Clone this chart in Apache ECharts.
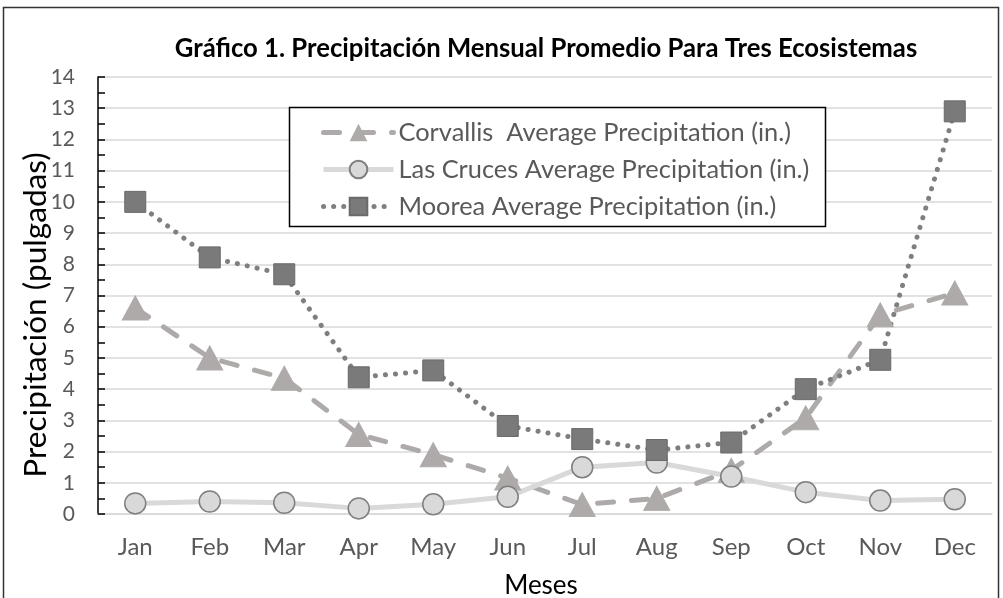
<!DOCTYPE html>
<html><head><meta charset="utf-8">
<script src="https://cdn.jsdelivr.net/npm/echarts@6/dist/echarts.min.js"></script>
<style>html,body{margin:0;padding:0;background:#fff}#c{width:1003px;height:598px}</style>
</head><body><div id="c"></div>
<script>
const months = ['Jan','Feb','Mar','Apr','May','Jun','Jul','Aug','Sep','Oct','Nov','Dec'];
const corvallis = [6.6, 5.0, 4.35, 2.55, 1.9, 1.15, 0.3, 0.5, 1.4, 3.08, 6.38, 7.08];
const lasCruces = [0.34, 0.4, 0.36, 0.18, 0.31, 0.55, 1.5, 1.65, 1.2, 0.7, 0.43, 0.47];
const moorea = [10.0, 8.22, 7.68, 4.38, 4.6, 2.82, 2.4, 2.05, 2.29, 4.0, 4.94, 12.9];
const yTicks = [0, 14, 1];
const yName = 'Precipitación (pulgadas)';
const FONT = 'Lato';
const chart = echarts.init(document.getElementById('c'));
chart.setOption({
  animation: false,
  textStyle: {fontFamily: FONT},
  title: {text: 'Gráfico 1. Precipitación Mensual Promedio Para Tres Ecosistemas', left: 541, textAlign: 'center', top: 31,
    textStyle: {fontFamily: FONT, fontWeight: 'bold', fontSize: 25.7, color: '#000'}},
  graphic: [
    {type: 'rect', shape: {x: 3.5, y: 7.5, width: 995, height: 600}, style: {fill: 'none', stroke: '#333', lineWidth: 1.5}, z: 100},
    {type: 'rect', shape: {x: 289.5, y: 107.5, width: 536, height: 119}, style: {fill: '#fff', stroke: '#000', lineWidth: 1.5}, z: 3},
    {type: 'text', x: 36, y: 315, rotation: Math.PI / 2, z: 5,
      style: {text: yName, fontFamily: FONT, fontSize: 31.6, fill: '#000', align: 'center', verticalAlign: 'middle'}}
  ],
  legend: {orient: 'vertical', left: 289, top: 107, padding: [13, 0, 0, 32], itemGap: 12, z: 4,
    itemWidth: 70, itemHeight: 22,
    lineStyle: {width: 5},
    textStyle: {fontFamily: FONT, fontSize: 25.4, color: '#595959', lineHeight: 22, height: 22}},
  grid: {left: 98, right: 11, top: 77, bottom: 84, outerBoundsMode: 'none', containLabel: false},
  xAxis: {type: 'category', data: months, boundaryGap: true,
    axisLine: {show: true, lineStyle: {color: '#d9d9d9', width: 1.5}}, axisTick: {show: false},
    axisLabel: {fontFamily: FONT, fontSize: 24, color: '#595959', margin: 21},
    name: 'Meses', nameLocation: 'middle', nameGap: 59, nameTextStyle: {fontFamily: FONT, fontSize: 26, color: '#000', padding: [0, 8, 0, 0]}},
  yAxis: {type: 'value', min: yTicks[0], max: yTicks[1], interval: yTicks[2],
    axisLine: {show: true, lineStyle: {color: '#000', width: 1.5}},
    axisTick: {show: true, inside: true, length: 7, lineStyle: {color: '#000', width: 1.5}},
    minorTick: {show: true, splitNumber: 2, length: 7, lineStyle: {color: '#000', width: 1.5}},
    splitLine: {lineStyle: {color: '#d9d9d9', width: 1.5}},
    axisLabel: {fontFamily: FONT, fontSize: 21, color: '#595959', margin: 23}},
  series: [
    {name: 'Corvallis  Average Precipitation (in.)', type: 'line', data: corvallis, symbol: 'triangle', symbolSize: [26, 24],
      itemStyle: {color: '#aeaaaa', borderColor: '#aeaaaa'},
      lineStyle: {color: '#aeaaaa', width: 5, type: [16, 18], cap: 'round'}},
    {name: 'Las Cruces Average Precipitation (in.)', type: 'line', data: lasCruces, symbol: 'circle', symbolSize: 21,
      itemStyle: {color: '#d9d9d9', borderColor: '#7f7f7f', borderWidth: 1.5},
      lineStyle: {color: '#d9d9d9', width: 5}},
    {name: 'Moorea Average Precipitation (in.)', type: 'line', data: moorea, symbol: 'rect', symbolSize: 21,
      itemStyle: {color: '#7a7a7a', borderColor: '#6a6a6a', borderWidth: 1},
      lineStyle: {color: '#7f7f7f', width: 5, type: [0.1, 10], cap: 'round'}}
  ]
});
</script></body></html>
